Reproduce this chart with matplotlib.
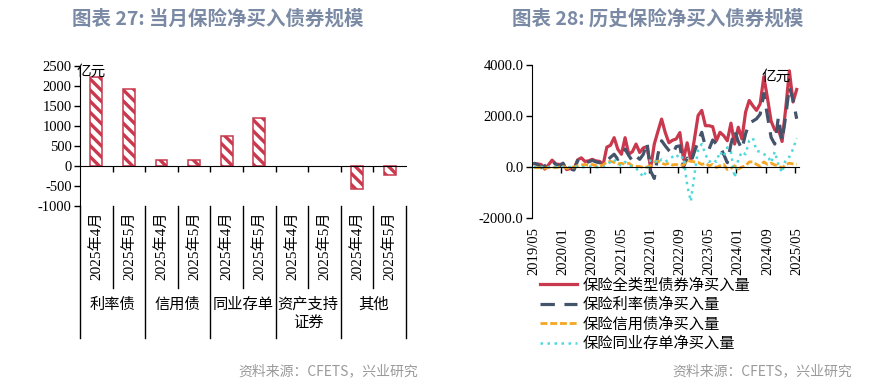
""" insurance net bond purchases: monthly breakdown and history """

import matplotlib
matplotlib.use("Agg")
from matplotlib import pyplot as plt
from matplotlib import transforms
from matplotlib.ticker import FormatStrFormatter
import pandas as pd

# left panel: net purchases by bond type, Apr/May 2025 (亿元)
GROUPS = ["利率债", "信用债", "同业存单", "资产支持\n证券", "其他"]
MONTHS = ["2025年4月", "2025年5月"]
NET_BUY = [2230, 1920, 150, 150, 750, 1200, 0, 0, -580, -220]

# right panel: monthly history 2019/05 - 2025/05 (亿元)
DATES = pd.date_range("2019-05-01", periods=73, freq="MS")
TOTAL = [
	130, 120, 100, -80, 80, 270, 120, 100, 110, -100,
	-60, -80, 280, 360, 220, 240, 300, 240, 220, 100,
	780, 850, 1150, 700, 500, 1150, 500, 600, 900, 570,
	750, 800, -30, 900, 1400, 1880, 1350, 950, 1050, 1100,
	1350, 300, 950, 240, 1100, 2020, 2220, 1620, 1620, 1580,
	1030, 1360, 1230, 1030, 1720, 900, 1560, 1100, 2150, 2610,
	2400, 2220, 2480, 3540, 2700, 1800, 1450, 1480, 1000, 2300,
	3770, 2550, 3040]
RATES = [
	150, 100, -30, 50, 120, 240, 100, 40, 150, -120,
	-80, -120, 250, 300, 170, 200, 260, 200, 170, 150,
	240, 380, 500, 300, 430, 700, 450, 240, 430, 300,
	500, 960, -160, -450, 500, 1030, 830, 650, 500, 800,
	830, 0, 350, 170, 600, 1000, 1360, 800, 700, 1060,
	900, 800, 500, 170, 900, 1430, 1000, 700, 1300, 1720,
	1800, 1890, 2070, 2880, 2000, 1160, 900, 1960, 1030, 2000,
	3140, 2640, 1890]
CREDIT = [
	-20, -30, -20, -50, -20, 0, -30, 0, 20, -50,
	-30, 0, 50, 80, 100, 60, 100, 50, 30, 80,
	200, 220, 180, 120, 150, 100, 150, 50, 30, 20,
	-20, 0, 50, 200, 230, 150, 100, 150, 80, 100,
	50, 80, 250, 230, 200, 180, 100, 150, 50, 100,
	-20, 50, 100, -100, -50, 50, -80, 0, 50, 200,
	200, 100, 30, 200, 100, 150, 80, 50, -50, 100,
	150, 120, 100]
NCD = [
	0, -20, 0, -30, 0, 20, 0, -20, 0, -30,
	0, -20, 20, 0, -10, 30, 0, -20, 10, 0,
	100, 200, 300, 120, 50, 200, 100, 0, -50, -200,
	-400, -100, 300, 250, 150, 300, 200, 300, 400, 500,
	300, 400, -700, -1350, -300, 700, 900, 500, 200, 300,
	200, 600, 400, 770, 600, -420, 300, 600, 500, 1030,
	1140, 630, 600, 500, 450, 170, 600, 100, -220, 300,
	400, 700, 1140]

SERIES = [
	("保险全类型债券净买入量", TOTAL, dict(color="#c9384d", lw=2.3, ls="-")),
	("保险利率债净买入量", RATES, dict(color="#44546a", lw=2.3, dashes=(4.5, 3))),
	("保险信用债净买入量", CREDIT, dict(color="#f5a623", lw=2.0, dashes=(2.5, 1.0))),
	("保险同业存单净买入量", NCD, dict(color="#4fd8dc", lw=1.8, dashes=(1, 1.8))),
]

plt.rcParams["font.family"] = ["Liberation Serif", "Noto Sans CJK SC"]
plt.rcParams["axes.unicode_minus"] = False
plt.rcParams["hatch.linewidth"] = 2.4

W, H = 885, 388
fig = plt.figure(figsize=(W/100, H/100), dpi=100)

TITLE = dict(fontsize=14, fontweight="bold", color="#7a8aa5", family="Noto Sans CJK SC", ha="center", va="center")
SOURCE = dict(fontsize=10, color="#9a9a9a", family="Noto Sans CJK SC", ha="right", va="center")
fig.text(218/W, 1 - 19/H, "图表 27: 当月保险净买入债券规模", **TITLE)
fig.text(658/W, 1 - 19/H, "图表 28: 历史保险净买入债券规模", **TITLE)
fig.text(418/W, 1 - 371/H, "资料来源：CFETS，兴业研究", **SOURCE)
fig.text(852/W, 1 - 371/H, "资料来源：CFETS，兴业研究", **SOURCE)

# ---- left: hatched bars with a two-level category axis
ax1 = fig.add_axes([80/W, 1 - 206/H, 326/W, 140/H])
x = range(len(NET_BUY))
shown = [i for i in x if NET_BUY[i] != 0]  # empty categories draw nothing
ax1.bar(shown, [NET_BUY[i] for i in shown], width=0.36, color="white",
        edgecolor="#c9384d", linewidth=1.1, hatch="\\\\\\")
ax1.set_xlim(-0.5, len(NET_BUY) - 0.5)
ax1.set_ylim(-1000, 2500)
ax1.set_yticks(range(-1000, 2501, 500))
ax1.set_xticks([i + 0.5 for i in range(len(NET_BUY) - 1)])
ax1.set_xticklabels([])
ax1.spines[["top", "right"]].set_visible(False)
ax1.spines["bottom"].set_position(("data", 0))
ax1.tick_params(axis="both", direction="out", length=4, width=1, labelsize=10.5, pad=2)
trans = transforms.blended_transform_factory(ax1.transData, ax1.transAxes)
for i in x:
	ax1.text(i, -0.035, MONTHS[i % 2], transform=trans, rotation=90, ha="center", va="top", fontsize=11)
for i in range(len(NET_BUY) + 1):
	bottom = -0.943 if i % 2 == 0 else -0.586
	ax1.plot([i - 0.5, i - 0.5], [0, bottom], transform=trans, color="black", lw=1, clip_on=False)
for g, name in enumerate(GROUPS):
	ax1.text(2*g + 0.5, -0.655, name, transform=trans, ha="center", va="top", fontsize=11, linespacing=1.3)
fig.text(91/W, 1 - 72/H, "亿元", fontsize=10.5, ha="center", va="center")

# ---- right: monthly history lines
ax2 = fig.add_axes([532/W, 1 - 218/H, 266.5/W, 153/H])
idx = range(len(DATES))
handles = []
for label, values, style in SERIES:
	line, = ax2.plot(idx, values, label=label, **style)
	handles.append(line)
ax2.set_xlim(-0.5, len(DATES) - 0.5)
ax2.set_ylim(-2000, 4000)
ax2.set_yticks([-2000, 0, 2000, 4000])
ax2.yaxis.set_major_formatter(FormatStrFormatter("%.1f"))
ax2.set_xticks([i + 7.5 for i in range(0, len(DATES) - 1, 8)])
ax2.set_xticklabels([])
ax2.spines[["top", "right"]].set_visible(False)
ax2.spines["bottom"].set_position(("data", 0))
ax2.tick_params(axis="both", direction="out", length=4, width=1, labelsize=10.5, pad=2)
trans2 = transforms.blended_transform_factory(ax2.transData, ax2.transAxes)
for i in range(0, len(DATES), 8):
	ax2.text(i, -0.06, DATES[i].strftime("%Y/%m"), transform=trans2, rotation=90,
	         ha="center", va="top", fontsize=10.5)
fig.text(776/W, 1 - 77/H, "亿元", fontsize=10.5, ha="center", va="center")

fig.legend(handles=handles, loc="upper left", bbox_to_anchor=(540/W, 1 - 278/H),
           frameon=False, fontsize=11, handlelength=2.4, handletextpad=0.4,
           labelspacing=0.33, borderpad=0, borderaxespad=0)

fig.savefig("out.png", dpi=100)
